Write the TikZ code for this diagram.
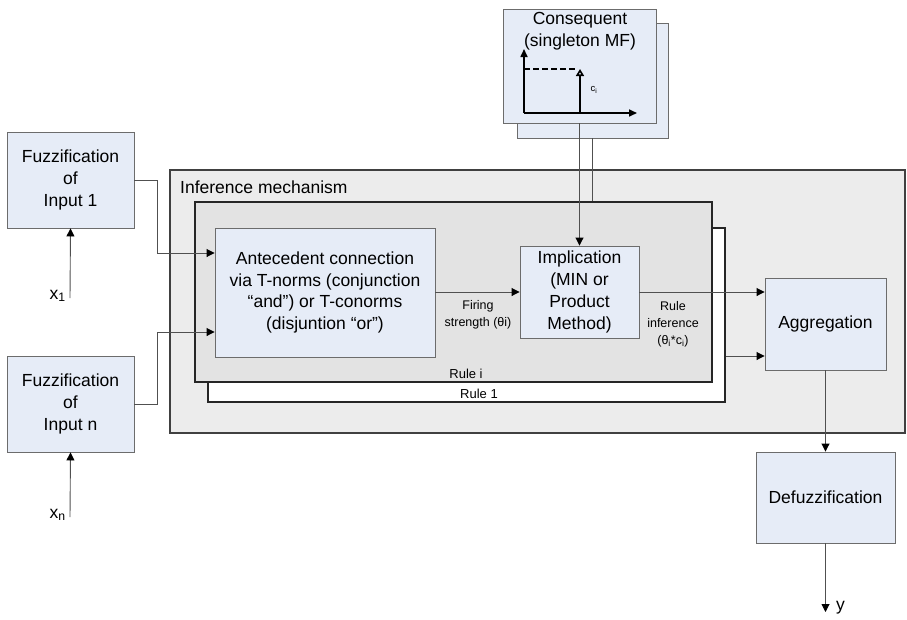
\documentclass[tikz,border=0pt]{standalone}
\usepackage{fontspec}
\setmainfont{Liberation Sans}
\usetikzlibrary{arrows.meta,positioning,calc}
\definecolor{boxblue}{HTML}{E6ECF7}
\definecolor{infgray}{HTML}{ECECEC}
\definecolor{rulegray}{HTML}{E3E3E3}
\definecolor{linegray}{HTML}{505050}
\tikzset{
    block/.style={draw=gray!85!black, fill=boxblue, line width=0.9pt, align=center, inner sep=0pt, font=\fontsize{17.5}{21.7}\selectfont},
    flow/.style={-{Triangle[length=8pt, width=8pt, color=black]}, linegray, line width=0.9pt},
    rulebox/.style={draw=black!85, line width=1.8pt, inner sep=0pt},
    small/.style={align=center, inner sep=0pt, font=\fontsize{12.5}{17}\selectfont},
    label/.style={inner sep=0pt, font=\fontsize{17.5}{21.7}\selectfont},
    axis/.style={-{Triangle[length=8pt, width=7pt]}, line width=1.6pt}
}

\begin{document}
\begin{tikzpicture}[x=1pt, y=-1pt]
    \useasboundingbox (0,0) rectangle (907,619);

    \node[draw=black!75, fill=infgray, line width=1.3pt, minimum width=735, minimum height=263, inner sep=0pt] (infer) at (537.5,301.5) {};
    \node[label, anchor=west] (infertext) at (180,187) {Inference mechanism};
    \node[rulebox, fill=white, minimum width=517, minimum height=174] (rule1) at (466.5,315) {};
    \node[rulebox, fill=rulegray, minimum width=517, minimum height=180] (rulei) at (453.5,292) {};
    \node[small, font=\fontsize{13}{15}\selectfont] (ruleitext) at (466,374) {Rule i};
    \node[small, font=\fontsize{13}{15}\selectfont] (rule1text) at (479,394) {Rule 1};

    \node[block, minimum width=127, minimum height=96] (fuzzA) at (70.5,180) {Fuzzification\\of\\Input 1};
    \node[block, minimum width=127, minimum height=96] (fuzzN) at (70.5,404) {Fuzzification\\of\\Input n};
    \node[block, minimum width=220, minimum height=129] (ante) at (325,292.5) {Antecedent connection\\via T-norms (conjunction\\“and”) or T-conorms\\(disjuntion “or”)};
    \node[block, minimum width=119, minimum height=92] (impl) at (579.5,292) {Implication\\(MIN or\\Product\\Method)};
    \node[block, minimum width=121, minimum height=92] (aggr) at (825.5,324) {Aggregation};
    \node[block, minimum width=139, minimum height=91] (defuzz) at (825.5,497.5) {Defuzzification};

    \node[block, minimum width=151, minimum height=115] (consB) at (592.5,80.5) {};
    \node[block, minimum width=153, minimum height=114] (consF) at (579.5,66) {};
    \node[label, align=center] (constext) at (580,31) {Consequent\\(singleton MF)};
    \draw[axis] (524,113) -- (524,49);
    \draw[axis] (524,113) -- (637,113);
    \draw[line width=1.8pt, dash pattern=on 6pt off 3pt] (524,69) -- (577,69);
    \draw[line width=1.6pt, -{Triangle[open, length=7pt, width=8pt]}] (580,113) -- (580,69);
    \node[inner sep=0pt, font=\fontsize{9.5}{11}\selectfont] (ci) at (594,90) {c\textsubscript{i}};

    \coordinate (x1) at (70,298);
    \coordinate (xn) at (70,517);
    \coordinate (yout) at (825.5,612);
    \node[label, anchor=east] (x1text) at (66,296) {x\textsubscript{1}};
    \node[label, anchor=east] (xntext) at (66,515) {x\textsubscript{n}};
    \node[label, anchor=west] (ytext) at (836,608) {y};

    \draw[flow] (x1) -- (fuzzA.south);
    \draw[flow] (xn) -- (fuzzN.south);
    \draw[flow] (fuzzA.east) -- ++(23,0) |- ([yshift=39.5pt]ante.west);
    \draw[flow] (fuzzN.east) -- ++(23,0) |- ([yshift=-39.5pt]ante.west);
    \draw[flow] (ante.east |- impl.west) -- (impl.west);
    \node[small] (firing) at (478,315) {Firing\\strength (θi)};
    \draw[flow] (impl.east) -- (impl.east -| aggr.west);
    \draw[flow] ([yshift=-32pt]aggr.west -| rule1.east) -- ([yshift=-32pt]aggr.west);
    \node[small] (ruleinf) at (673,324) {Rule\\inference\\(θ\textsubscript{i}*c\textsubscript{i})};
    \draw[flow] (consF.south) -- (impl.north);
    \draw[linegray, line width=0.9pt] (consB.south) -- (consB.south |- rulei.north);
    \draw[flow] (aggr.south) -- (defuzz.north);
    \draw[flow] (defuzz.south) -- (yout);
\end{tikzpicture}
\end{document}
